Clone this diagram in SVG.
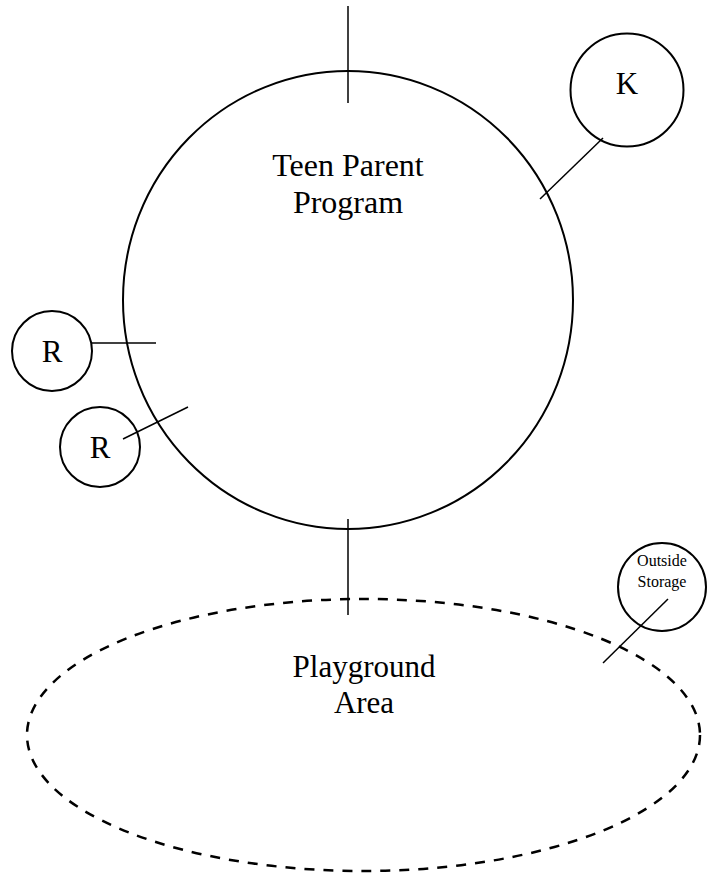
<svg xmlns="http://www.w3.org/2000/svg" width="720" height="873" viewBox="0 0 720 873">
<style>
.shape{fill:none;stroke:#000;stroke-width:2}
.dash{fill:none;stroke:#000;stroke-width:2.5;stroke-dasharray:10 9}
.ln{stroke:#000;stroke-width:1.5}
text{font-family:"Liberation Serif","Times New Roman",serif;fill:#000;text-anchor:middle}
.big{font-size:31px}
.title{font-size:32px}
.small{font-size:16px}
</style>
<rect width="720" height="873" fill="#fff"/>
<g id="teen-parent-program">
<ellipse class="shape" cx="348" cy="300" rx="225" ry="229"/>
<text class="title" x="348" y="176">Teen Parent</text>
<text class="title" x="348" y="213">Program</text>
</g>
<g id="playground-area">
<ellipse class="dash" cx="363.5" cy="735" rx="336.5" ry="136"/>
<text class="big" x="364" y="677">Playground</text>
<text class="big" x="364" y="713">Area</text>
</g>
<g id="k">
<circle class="shape" cx="627" cy="90" r="56.5"/>
<text class="big" x="627" y="94">K</text>
</g>
<g id="r1">
<circle class="shape" cx="52" cy="351" r="40"/>
<text class="big" x="52" y="362">R</text>
</g>
<g id="r2">
<circle class="shape" cx="100" cy="447" r="40"/>
<text class="big" x="100" y="458">R</text>
</g>
<g id="outside-storage">
<circle class="shape" cx="662" cy="587" r="44"/>
<text class="small" x="662" y="566">Outside</text>
<text class="small" x="662" y="587">Storage</text>
</g>
<g id="connectors">
<line class="ln" x1="348" y1="6" x2="348" y2="103"/>
<line class="ln" x1="348" y1="519" x2="348" y2="615"/>
<line class="ln" x1="603" y1="138" x2="540" y2="199"/>
<line class="ln" x1="92" y1="343" x2="156" y2="343"/>
<line class="ln" x1="123" y1="439" x2="188" y2="407"/>
<line class="ln" x1="668" y1="599" x2="603" y2="663"/>
</g>
</svg>
